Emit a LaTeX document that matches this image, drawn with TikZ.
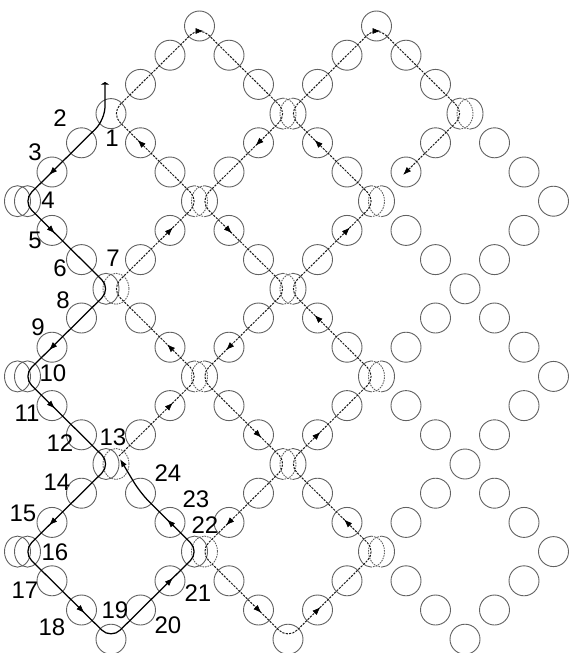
\documentclass[tikz,border=0pt]{standalone}
\usepackage{fontspec}
\setmainfont{Liberation Sans}
\usetikzlibrary{calc,arrows.meta}
\newcommand\myarw[3]{\draw[tipst] ($(#1)+({-2.8*(#2)},{-2.8*(#3)})$) -- ($(#1)+({2.8*(#2)},{2.8*(#3)})$);}
\begin{document}
\begin{tikzpicture}[x=1pt,y=-1pt,
  ring/.style={circle,draw=black!62,line width=0.9pt,minimum size=30pt,inner sep=0pt},
  rl/.style={draw=black!62,line width=0.9pt},
  rld/.style={draw=black!62,line width=0.9pt,dash pattern=on 1.6pt off 1pt},
  dpath/.style={draw=black!90,line width=1pt,dash pattern=on 2.2pt off 1.2pt,rounded corners=13pt},
  spath/.style={draw=black,line width=1.25pt,rounded corners=13pt},
  tipst/.style={-{Latex[length=8pt,width=6pt]},draw=black,line width=0.6pt,solid},
  lbl/.style={font=\fontsize{24pt}{24pt}\selectfont,inner sep=0pt}
]
\useasboundingbox (0,0) rectangle (568,653);
% lattice coordinates (M = m+3)
\foreach \M in {0,...,18}{\foreach \k in {0,...,21}{
  \coordinate (p\M-\k) at ({111+29.5*(\M-3)},{26+29.2*\k});
}}
% single circles
\foreach \M in {0,...,18}{\foreach \k in {0,...,21}{
  \pgfmathtruncatemacro\cm{\M-3}
  \pgfmathtruncatemacro\cS{mod(\cm+\k+60,6)}
  \pgfmathtruncatemacro\cD{mod(\cm-\k+60,6)}
  \pgfmathtruncatemacro\cEx{((\cm-\k==-3)||(\cm+\k==15))&&(\k<3)}
  \pgfmathtruncatemacro\cIsV{(mod(\M,3)==0)&&(mod(\k,3)==0)}
  \pgfmathtruncatemacro\cDb{\cIsV&&(((\cm<=9)&&(\k>=3)&&(\k<=18)&&!((\cm==0)&&(\k==3)))||((\cm==12)&&(\k==3)))}
  \pgfmathtruncatemacro\cOn{((\cS==3)||(\cD==3))&&!\cEx&&!\cDb}
  \ifnum\cOn=1 \node[ring] (c\M-\k) at (p\M-\k) {}; \fi
}}
% double circles, dashed inner halves
\foreach \c in {p9-3,p15-3,p6-6,p12-6,p9-9,p6-12,p12-12,p9-15,p12-18}{
  \draw[rl] ($(\c)+(-5,-15.5)$) arc[start angle=90,end angle=270,x radius=13pt,y radius=15.5pt];
  \draw[rld] ($(\c)+(-5,-15.5)$) arc[start angle=90,end angle=-90,x radius=13pt,y radius=15.5pt];
  \draw[rl] ($(\c)+(5,-15.5)$) arc[start angle=90,end angle=-90,x radius=13pt,y radius=15.5pt];
  \draw[rld] ($(\c)+(5,-15.5)$) arc[start angle=90,end angle=270,x radius=13pt,y radius=15.5pt];
}
% double circles, all solid
\foreach \c in {p0-6,p0-12,p0-18}{
  \draw[rl] ($(\c)+(-5,0)$) ellipse[x radius=13pt,y radius=15.5pt];
  \draw[rl] ($(\c)+(5,0)$) ellipse[x radius=13pt,y radius=15.5pt];
}
% double circles, left solid, right dashed
\foreach \c in {p3-9,p3-15,p6-18}{
  \draw[rl] ($(\c)+(-5,0)$) ellipse[x radius=13pt,y radius=15.5pt];
  \draw[rld] ($(\c)+(5,0)$) ellipse[x radius=13pt,y radius=15.5pt];
}
% dashed route
\draw[dpath] ($(p3-15)+(8,-8)$) -- (p6-12) -- (p3-9) -- (p6-6) -- (p3-3) -- (p6-0) -- (p9-3)
  -- (p6-6) -- (p9-9) -- (p6-12) -- (p9-15) -- (p6-18) -- (p9-21) -- (p12-18) -- (p9-15)
  -- (p12-12) -- (p9-9) -- (p12-6) -- (p9-3) -- (p12-0) -- (p15-3) -- (p13-5);
% solid route
\coordinate (st) at (105,82);
\coordinate (bd) at (105,119.5);
\coordinate (e13) at (120,459);
\draw[spath,{Triangle[length=2.5pt,width=8pt]}-{Latex[length=8pt,width=6pt]}]
  (st) -- (bd) -- (p0-6) -- (p3-9) -- (p0-12) -- (p3-15) -- (p0-18) -- (p3-21) -- (p6-18) -- (p4-16) -- (e13);
% arrows on dashed route
\draw[tipst] ($(p6-0)+(-4,5)$) -- ($(p6-0)+(4,5)$);
\draw[tipst] ($(p12-0)+(-4,5)$) -- ($(p12-0)+(4,5)$);
\myarw{p8-4}{-1}{1}
\myarw{p7-7}{1}{1}
\myarw{p7-11}{-1}{1}
\myarw{p8-14}{1}{1}
\myarw{p7-17}{-1}{1}
\myarw{p8-20}{1}{1}
\myarw{p10-20}{1}{-1}
\myarw{p11-17}{-1}{-1}
\myarw{p10-14}{1}{-1}
\myarw{p10-10}{-1}{-1}
\myarw{p11-7}{1}{-1}
\myarw{p10-4}{-1}{-1}
\myarw{p13-5}{-1}{1}
\myarw{p5-13}{1}{-1}
\myarw{p5-11}{-1}{-1}
\myarw{p5-7}{1}{-1}
\myarw{p4-4}{-1}{-1}
% arrows on solid route
\myarw{p1-5}{-1}{1}
\myarw{p1-7}{1}{1}
\myarw{p1-11}{-1}{1}
\myarw{p1-13}{1}{1}
\myarw{p1-17}{-1}{1}
\myarw{p2-20}{1}{1}
\myarw{p5-19}{1}{-1}
\myarw{p5-17}{-1}{-1}
% labels
\node[lbl] (l1) at (112,138) {1};
\node[lbl] (l2) at (60,118) {2};
\node[lbl] (l3) at (35,152) {3};
\node[lbl] (l4) at (48,200) {4};
\node[lbl] (l5) at (35,240) {5};
\node[lbl] (l6) at (60,268) {6};
\node[lbl] (l7) at (113,258) {7};
\node[lbl] (l8) at (63,300) {8};
\node[lbl] (l9) at (38,327) {9};
\node[lbl] (l10) at (53,373) {10};
\node[lbl] (l11) at (27,413) {11};
\node[lbl] (l12) at (60,443) {12};
\node[lbl] (l13) at (113,437) {13};
\node[lbl] (l14) at (57,482) {14};
\node[lbl] (l15) at (23,513) {15};
\node[lbl] (l16) at (55,552) {16};
\node[lbl] (l17) at (25,590) {17};
\node[lbl] (l18) at (52,627) {18};
\node[lbl] (l19) at (115,610) {19};
\node[lbl] (l20) at (168,625) {20};
\node[lbl] (l21) at (198,593) {21};
\node[lbl] (l22) at (205,525) {22};
\node[lbl] (l23) at (196,499) {23};
\node[lbl] (l24) at (168,473) {24};
\end{tikzpicture}
\end{document}
